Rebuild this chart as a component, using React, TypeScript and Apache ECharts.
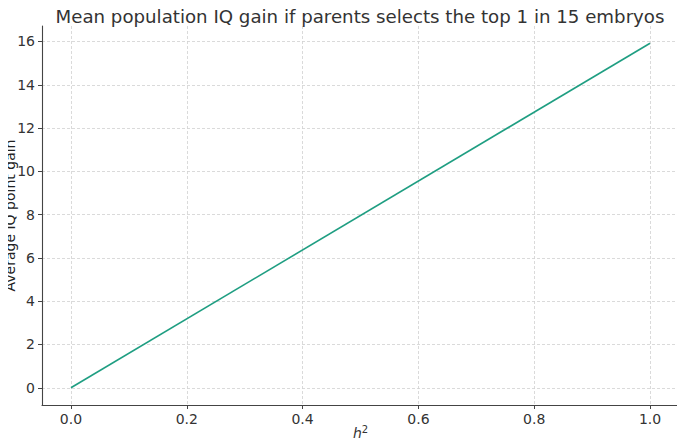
import React, { useEffect, useRef } from "react";
import * as echarts from "echarts";

const xValues = [0.0, 1.0];
const yValues = [0.0, 15.92];
const xTicks = [0.0, 0.2, 0.4, 0.6, 0.8, 1.0];
const yTicks = [0, 2, 4, 6, 8, 10, 12, 14, 16];
const titleText = "Mean population IQ gain if parents selects the top 1 in 15 embryos";
const yAxisTitle = "Average IQ point gain";

const FONT = "DejaVu Sans";

export default function App() {
  const ref = useRef<HTMLDivElement>(null);
  useEffect(() => {
    if (!ref.current) return;
    const chart = echarts.init(ref.current, undefined, { renderer: "svg" });
    const data = xValues.map((x, i) => [x, yValues[i]]);
    chart.setOption({
      animation: false,
      backgroundColor: "#ffffff",
      textStyle: { fontFamily: FONT },
      title: {
        text: titleText,
        left: 355,
        textAlign: "center",
        top: 2,
        textStyle: { fontFamily: FONT, fontSize: 18.2, fontWeight: "normal", color: "#333333" },
      },
      graphic: [
        {
          type: "text",
          x: 10,
          y: 215.5,
          rotation: Math.PI / 2,
          z: 100,
          style: {
            text: yAxisTitle,
            fontFamily: FONT,
            fontSize: 14,
            fill: "#222222",
            align: "center",
            verticalAlign: "middle",
          },
        },
      ],
      grid: { left: 42, right: 6, top: 26, bottom: 42, containLabel: false, outerBoundsMode: "none" },
      xAxis: {
        type: "value",
        min: -0.05,
        max: 1.05,
        name: "{i|h}{s|2}",
        nameLocation: "middle",
        nameGap: 19,
        nameMoveOverlap: false,
        nameTextStyle: {
          verticalAlign: "top",
          rich: {
            i: { fontFamily: FONT, fontSize: 14, fontStyle: "italic", color: "#333333" },
            s: { fontFamily: FONT, fontSize: 10, color: "#333333", verticalAlign: "top", padding: [0, 0, 8, 0] },
          },
        },
        axisLine: { show: true, onZero: false, lineStyle: { color: "#444444", width: 1.1 } },
        axisTick: { show: true, length: 4, inside: false, lineStyle: { color: "#444444" }, customValues: xTicks },
        axisLabel: {
          customValues: xTicks,
          formatter: (v: number) => v.toFixed(1),
          fontFamily: FONT,
          fontSize: 14,
          color: "#333333",
          margin: 7,
        },
        splitLine: { show: true, lineStyle: { color: "#d0d0d0", type: [3, 2], width: 0.8 } },
      },
      yAxis: {
        type: "value",
        min: -0.796,
        max: 16.716,
        axisLine: { show: true, onZero: false, lineStyle: { color: "#444444", width: 1.1 } },
        axisTick: { show: true, length: 4, inside: false, lineStyle: { color: "#444444" }, customValues: yTicks },
        axisLabel: {
          customValues: yTicks,
          formatter: (v: number) => String(v),
          fontFamily: FONT,
          fontSize: 14,
          color: "#333333",
          margin: 7,
        },
        splitLine: { show: true, lineStyle: { color: "#d0d0d0", type: [3, 2], width: 0.8 } },
      },
      series: [
        {
          type: "line",
          data,
          symbol: "none",
          lineStyle: { color: "#1f9e82", width: 1.6 },
        },
      ],
    });
    return () => chart.dispose();
  }, []);
  return <div ref={ref} style={{ width: 685, height: 447, margin: -8 }} />;
}
